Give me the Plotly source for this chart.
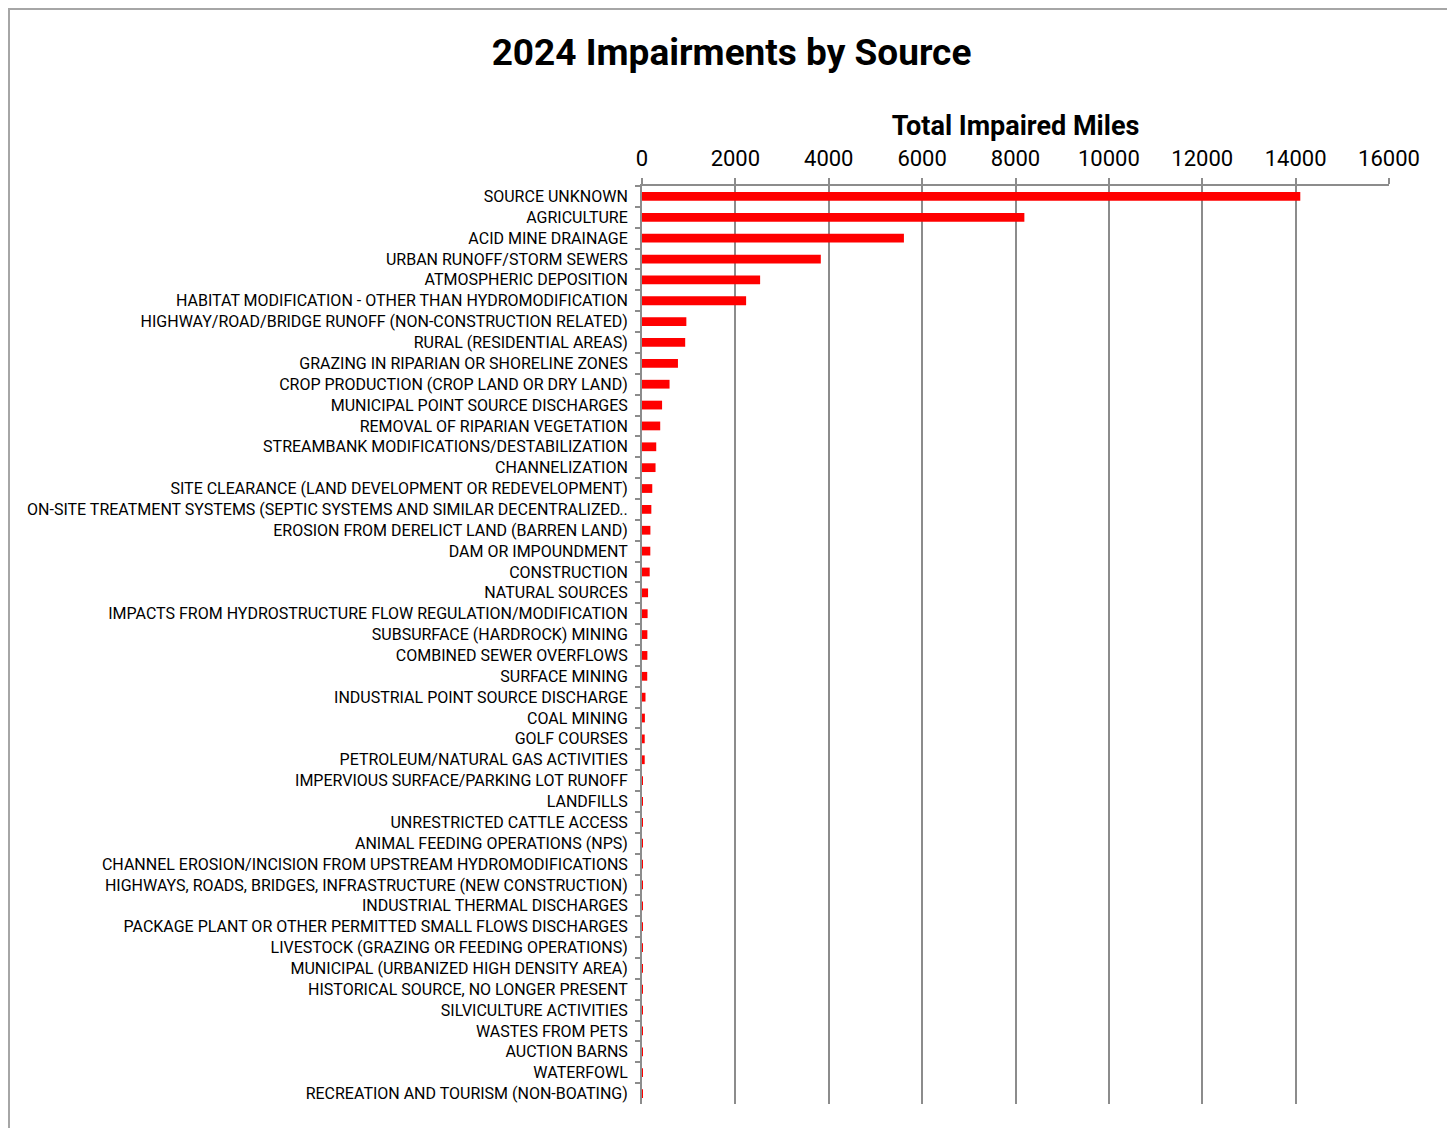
"""2024 impairments by source, horizontal bar chart."""

import plotly.graph_objects as go

sources = [
    "SOURCE UNKNOWN",
    "AGRICULTURE",
    "ACID MINE DRAINAGE",
    "URBAN RUNOFF/STORM SEWERS",
    "ATMOSPHERIC DEPOSITION",
    "HABITAT MODIFICATION - OTHER THAN HYDROMODIFICATION",
    "HIGHWAY/ROAD/BRIDGE RUNOFF (NON-CONSTRUCTION RELATED)",
    "RURAL (RESIDENTIAL AREAS)",
    "GRAZING IN RIPARIAN OR SHORELINE ZONES",
    "CROP PRODUCTION (CROP LAND OR DRY LAND)",
    "MUNICIPAL POINT SOURCE DISCHARGES",
    "REMOVAL OF RIPARIAN VEGETATION",
    "STREAMBANK MODIFICATIONS/DESTABILIZATION",
    "CHANNELIZATION",
    "SITE CLEARANCE (LAND DEVELOPMENT OR REDEVELOPMENT)",
    "ON-SITE TREATMENT SYSTEMS (SEPTIC SYSTEMS AND SIMILAR DECENTRALIZED..",
    "EROSION FROM DERELICT LAND (BARREN LAND)",
    "DAM OR IMPOUNDMENT",
    "CONSTRUCTION",
    "NATURAL SOURCES",
    "IMPACTS FROM HYDROSTRUCTURE FLOW REGULATION/MODIFICATION",
    "SUBSURFACE (HARDROCK) MINING",
    "COMBINED SEWER OVERFLOWS",
    "SURFACE MINING",
    "INDUSTRIAL POINT SOURCE DISCHARGE",
    "COAL MINING",
    "GOLF COURSES",
    "PETROLEUM/NATURAL GAS ACTIVITIES",
    "IMPERVIOUS SURFACE/PARKING LOT RUNOFF",
    "LANDFILLS",
    "UNRESTRICTED CATTLE ACCESS",
    "ANIMAL FEEDING OPERATIONS (NPS)",
    "CHANNEL EROSION/INCISION FROM UPSTREAM HYDROMODIFICATIONS",
    "HIGHWAYS, ROADS, BRIDGES, INFRASTRUCTURE (NEW CONSTRUCTION)",
    "INDUSTRIAL THERMAL DISCHARGES",
    "PACKAGE PLANT OR OTHER PERMITTED SMALL FLOWS DISCHARGES",
    "LIVESTOCK (GRAZING OR FEEDING OPERATIONS)",
    "MUNICIPAL (URBANIZED HIGH DENSITY AREA)",
    "HISTORICAL SOURCE, NO LONGER PRESENT",
    "SILVICULTURE ACTIVITIES",
    "WASTES FROM PETS",
    "AUCTION BARNS",
    "WATERFOWL",
    "RECREATION AND TOURISM (NON-BOATING)",
]

impaired_miles = [
    14100, 8190, 5610, 3830, 2530, 2230, 950, 925, 770, 590,
    430, 390, 305, 290, 220, 200, 180, 178, 165, 130,
    120, 115, 115, 112, 75, 62, 58, 58, 18, 14,
    12, 10, 8, 7, 6, 5, 4, 4, 3, 2,
    2, 1, 1, 1,
]

x_ticks = [0, 2000, 4000, 6000, 8000, 10000, 12000, 14000, 16000]

GRID = "#8c8c8c"

fig = go.Figure()
fig.add_trace(
    go.Bar(
        x=impaired_miles,
        y=sources,
        orientation="h",
        marker={"color": "#ff0000", "line": {"width": 0}},
        name="Total Impaired Miles",
    )
)

fig.update_layout(
    width=1447,
    height=1120,
    margin={"l": 634, "r": 66, "t": 178, "b": 24},
    paper_bgcolor="white",
    plot_bgcolor="white",
    bargap=0.58,
    showlegend=False,
    font={"family": "Roboto, sans-serif", "color": "black"},
    title={
        "text": "<b>2024 Impairments by Source</b>",
        "x": 0.5,
        "xanchor": "center",
        "y": 0.961,
        "yanchor": "middle",
        "font": {"size": 37, "family": "Roboto, sans-serif", "color": "black"},
    },
    xaxis={
        "side": "top",
        "range": [0, 16000],
        "tickvals": x_ticks,
        "ticktext": [str(v) for v in x_ticks],
        "tickfont": {"size": 22},
        "ticks": "outside",
        "ticklen": 6,
        "tickwidth": 2,
        "tickcolor": GRID,
        "ticklabelstandoff": 3,
        "showgrid": True,
        "gridcolor": GRID,
        "gridwidth": 2,
        "showline": True,
        "linecolor": GRID,
        "linewidth": 2,
        "zeroline": False,
        "title": {
            "text": "<b>Total Impaired Miles</b>",
            "font": {"size": 27},
            "standoff": 3,
        },
    },
    yaxis={
        "autorange": "reversed",
        "tickfont": {"size": 16},
        "ticks": "outside",
        "tickson": "boundaries",
        "ticklen": 5,
        "tickwidth": 2,
        "tickcolor": GRID,
        "ticklabelstandoff": 9,
        "showline": True,
        "linecolor": GRID,
        "linewidth": 2,
        "showgrid": False,
        "automargin": False,
    },
    shapes=[
        {
            "type": "rect",
            "xref": "paper",
            "yref": "paper",
            "x0": -0.8474,
            "x1": 1.0817,
            "y0": -0.03,
            "y1": 1.1928,
            "line": {"color": "#a6a6a6", "width": 2},
            "fillcolor": "rgba(0,0,0,0)",
            "layer": "below",
        }
    ],
)

fig.write_html("out.html")
